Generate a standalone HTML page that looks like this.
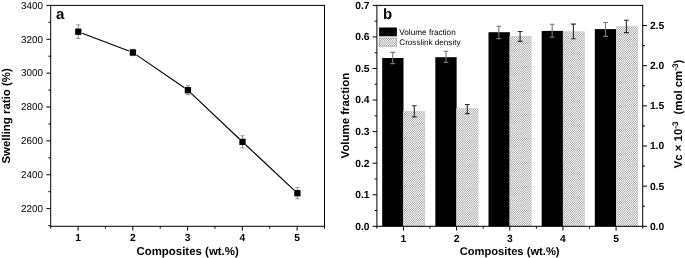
<!DOCTYPE html><html><head><meta charset="utf-8"><style>html,body{margin:0;padding:0;background:#fff}svg{display:block;will-change:transform;transform:translateZ(0)}text{font-family:"Liberation Sans",sans-serif;fill:#000;text-rendering:geometricPrecision}</style></head><body>
<svg width="685" height="258" viewBox="0 0 685 258">
<rect width="685" height="258" fill="#fff"/>
<rect x="50.7" y="5.4" width="273.8" height="220.9" fill="none" stroke="#000" stroke-width="1"/>
<line x1="48.400000000000006" y1="225.56" x2="50.7" y2="225.56" stroke="#000" stroke-width="1"/>
<line x1="46.400000000000006" y1="208.62" x2="50.7" y2="208.62" stroke="#000" stroke-width="1"/>
<text x="42.900000000000006" y="211.87" font-size="9.9" text-anchor="end">2200</text>
<line x1="48.400000000000006" y1="191.69" x2="50.7" y2="191.69" stroke="#000" stroke-width="1"/>
<line x1="46.400000000000006" y1="174.75" x2="50.7" y2="174.75" stroke="#000" stroke-width="1"/>
<text x="42.900000000000006" y="178.00" font-size="9.9" text-anchor="end">2400</text>
<line x1="48.400000000000006" y1="157.81" x2="50.7" y2="157.81" stroke="#000" stroke-width="1"/>
<line x1="46.400000000000006" y1="140.88" x2="50.7" y2="140.88" stroke="#000" stroke-width="1"/>
<text x="42.900000000000006" y="144.13" font-size="9.9" text-anchor="end">2600</text>
<line x1="48.400000000000006" y1="123.95" x2="50.7" y2="123.95" stroke="#000" stroke-width="1"/>
<line x1="46.400000000000006" y1="107.01" x2="50.7" y2="107.01" stroke="#000" stroke-width="1"/>
<text x="42.900000000000006" y="110.26" font-size="9.9" text-anchor="end">2800</text>
<line x1="48.400000000000006" y1="90.08" x2="50.7" y2="90.08" stroke="#000" stroke-width="1"/>
<line x1="46.400000000000006" y1="73.14" x2="50.7" y2="73.14" stroke="#000" stroke-width="1"/>
<text x="42.900000000000006" y="76.39" font-size="9.9" text-anchor="end">3000</text>
<line x1="48.400000000000006" y1="56.20" x2="50.7" y2="56.20" stroke="#000" stroke-width="1"/>
<line x1="46.400000000000006" y1="39.27" x2="50.7" y2="39.27" stroke="#000" stroke-width="1"/>
<text x="42.900000000000006" y="42.52" font-size="9.9" text-anchor="end">3200</text>
<line x1="48.400000000000006" y1="22.34" x2="50.7" y2="22.34" stroke="#000" stroke-width="1"/>
<line x1="46.400000000000006" y1="5.40" x2="50.7" y2="5.40" stroke="#000" stroke-width="1"/>
<text x="42.900000000000006" y="8.65" font-size="9.9" text-anchor="end">3400</text>
<line x1="50.70" y1="226.3" x2="50.70" y2="228.60000000000002" stroke="#000" stroke-width="1"/>
<line x1="78.08" y1="226.3" x2="78.08" y2="230.60000000000002" stroke="#000" stroke-width="1"/>
<text x="78.08" y="241.25" font-size="10.3" font-weight="bold" text-anchor="middle">1</text>
<line x1="105.46" y1="226.3" x2="105.46" y2="228.60000000000002" stroke="#000" stroke-width="1"/>
<line x1="132.84" y1="226.3" x2="132.84" y2="230.60000000000002" stroke="#000" stroke-width="1"/>
<text x="132.84" y="241.25" font-size="10.3" font-weight="bold" text-anchor="middle">2</text>
<line x1="160.22" y1="226.3" x2="160.22" y2="228.60000000000002" stroke="#000" stroke-width="1"/>
<line x1="187.60" y1="226.3" x2="187.60" y2="230.60000000000002" stroke="#000" stroke-width="1"/>
<text x="187.60" y="241.25" font-size="10.3" font-weight="bold" text-anchor="middle">3</text>
<line x1="214.98" y1="226.3" x2="214.98" y2="228.60000000000002" stroke="#000" stroke-width="1"/>
<line x1="242.36" y1="226.3" x2="242.36" y2="230.60000000000002" stroke="#000" stroke-width="1"/>
<text x="242.36" y="241.25" font-size="10.3" font-weight="bold" text-anchor="middle">4</text>
<line x1="269.74" y1="226.3" x2="269.74" y2="228.60000000000002" stroke="#000" stroke-width="1"/>
<line x1="297.12" y1="226.3" x2="297.12" y2="230.60000000000002" stroke="#000" stroke-width="1"/>
<text x="297.12" y="241.25" font-size="10.3" font-weight="bold" text-anchor="middle">5</text>
<line x1="324.50" y1="226.3" x2="324.50" y2="228.60000000000002" stroke="#000" stroke-width="1"/>
<text x="187.60" y="254.7" font-size="11.45" font-weight="bold" text-anchor="middle">Composites (wt.%)</text>
<text transform="translate(10.2,115.9) rotate(-90)" font-size="11.45" font-weight="bold" text-anchor="middle">Swelling ratio (%)</text>
<text x="56.0" y="18.9" font-size="15" font-weight="bold">a</text>
<path fill="none" stroke="#000" stroke-width="1.15" d="M82.22 33.20L128.98 51.00M136.36 54.87L184.44 87.83M190.95 93.09L239.45 139.01M245.57 144.77L294.33 190.33"/>
<path d="M78.3 24.9V38.5M76.2 24.9H80.39999999999999M76.2 38.5H80.39999999999999" stroke="#777" stroke-width="0.8" fill="none"/>
<rect x="75.14999999999999" y="28.55" width="6.3" height="6.3" fill="#000"/>
<path d="M132.9 49.3V55.7M130.8 49.3H135.0M130.8 55.7H135.0" stroke="#777" stroke-width="0.8" fill="none"/>
<rect x="129.75" y="49.35" width="6.3" height="6.3" fill="#000"/>
<path d="M187.9 85.7V94.7M185.8 85.7H190.0M185.8 94.7H190.0" stroke="#777" stroke-width="0.8" fill="none"/>
<rect x="184.75" y="87.05" width="6.3" height="6.3" fill="#000"/>
<path d="M242.5 135.8V148.0M240.4 135.8H244.6M240.4 148.0H244.6" stroke="#777" stroke-width="0.8" fill="none"/>
<rect x="239.35" y="138.75" width="6.3" height="6.3" fill="#000"/>
<path d="M297.4 187.6V198.79999999999998M295.29999999999995 187.6H299.5M295.29999999999995 198.79999999999998H299.5" stroke="#777" stroke-width="0.8" fill="none"/>
<rect x="294.25" y="190.04999999999998" width="6.3" height="6.3" fill="#000"/>
<defs><pattern id="h" width="41" height="12" patternUnits="userSpaceOnUse" shape-rendering="crispEdges"><rect width="41" height="12" fill="#fff"/><rect x="0" y="0" width="1" height="1" fill="#a4a4a4"/><rect x="2" y="0" width="1" height="1" fill="#a7a7a7"/><rect x="4" y="0" width="1" height="1" fill="#ababab"/><rect x="5" y="0" width="1" height="1" fill="#fbfbfb"/><rect x="6" y="0" width="1" height="1" fill="#b0b0b0"/><rect x="7" y="0" width="1" height="1" fill="#f6f6f6"/><rect x="8" y="0" width="1" height="1" fill="#b5b5b5"/><rect x="9" y="0" width="1" height="1" fill="#efefef"/><rect x="10" y="0" width="1" height="1" fill="#bcbcbc"/><rect x="11" y="0" width="1" height="1" fill="#e9e9e9"/><rect x="12" y="0" width="1" height="1" fill="#c3c3c3"/><rect x="13" y="0" width="1" height="1" fill="#e2e2e2"/><rect x="14" y="0" width="1" height="1" fill="#cacaca"/><rect x="15" y="0" width="1" height="1" fill="#dadada"/><rect x="16" y="0" width="1" height="1" fill="#d2d2d2"/><rect x="17" y="0" width="1" height="1" fill="#d2d2d2"/><rect x="18" y="0" width="1" height="1" fill="#d9d9d9"/><rect x="19" y="0" width="1" height="1" fill="#cbcbcb"/><rect x="20" y="0" width="1" height="1" fill="#e1e1e1"/><rect x="21" y="0" width="1" height="1" fill="#c3c3c3"/><rect x="22" y="0" width="1" height="1" fill="#e8e8e8"/><rect x="23" y="0" width="1" height="1" fill="#bcbcbc"/><rect x="24" y="0" width="1" height="1" fill="#efefef"/><rect x="25" y="0" width="1" height="1" fill="#b6b6b6"/><rect x="26" y="0" width="1" height="1" fill="#f5f5f5"/><rect x="27" y="0" width="1" height="1" fill="#b0b0b0"/><rect x="28" y="0" width="1" height="1" fill="#fafafa"/><rect x="29" y="0" width="1" height="1" fill="#ababab"/><rect x="31" y="0" width="1" height="1" fill="#a7a7a7"/><rect x="33" y="0" width="1" height="1" fill="#a4a4a4"/><rect x="35" y="0" width="1" height="1" fill="#a3a3a3"/><rect x="37" y="0" width="1" height="1" fill="#a2a2a2"/><rect x="39" y="0" width="1" height="1" fill="#a3a3a3"/><rect x="0" y="1" width="1" height="1" fill="#f6f6f6"/><rect x="1" y="1" width="1" height="1" fill="#b5b5b5"/><rect x="2" y="1" width="1" height="1" fill="#f0f0f0"/><rect x="3" y="1" width="1" height="1" fill="#bbbbbb"/><rect x="4" y="1" width="1" height="1" fill="#e9e9e9"/><rect x="5" y="1" width="1" height="1" fill="#c2c2c2"/><rect x="6" y="1" width="1" height="1" fill="#e2e2e2"/><rect x="7" y="1" width="1" height="1" fill="#cacaca"/><rect x="8" y="1" width="1" height="1" fill="#dbdbdb"/><rect x="9" y="1" width="1" height="1" fill="#d1d1d1"/><rect x="10" y="1" width="1" height="1" fill="#d3d3d3"/><rect x="11" y="1" width="1" height="1" fill="#d9d9d9"/><rect x="12" y="1" width="1" height="1" fill="#cbcbcb"/><rect x="13" y="1" width="1" height="1" fill="#e0e0e0"/><rect x="14" y="1" width="1" height="1" fill="#c4c4c4"/><rect x="15" y="1" width="1" height="1" fill="#e8e8e8"/><rect x="16" y="1" width="1" height="1" fill="#bdbdbd"/><rect x="17" y="1" width="1" height="1" fill="#eeeeee"/><rect x="18" y="1" width="1" height="1" fill="#b6b6b6"/><rect x="19" y="1" width="1" height="1" fill="#f5f5f5"/><rect x="20" y="1" width="1" height="1" fill="#b1b1b1"/><rect x="21" y="1" width="1" height="1" fill="#fafafa"/><rect x="22" y="1" width="1" height="1" fill="#acacac"/><rect x="24" y="1" width="1" height="1" fill="#a8a8a8"/><rect x="26" y="1" width="1" height="1" fill="#a5a5a5"/><rect x="28" y="1" width="1" height="1" fill="#a3a3a3"/><rect x="30" y="1" width="1" height="1" fill="#a2a2a2"/><rect x="32" y="1" width="1" height="1" fill="#a2a2a2"/><rect x="34" y="1" width="1" height="1" fill="#a4a4a4"/><rect x="36" y="1" width="1" height="1" fill="#a7a7a7"/><rect x="38" y="1" width="1" height="1" fill="#ababab"/><rect x="39" y="1" width="1" height="1" fill="#fbfbfb"/><rect x="40" y="1" width="1" height="1" fill="#afafaf"/><rect x="0" y="2" width="1" height="1" fill="#c9c9c9"/><rect x="1" y="2" width="1" height="1" fill="#dbdbdb"/><rect x="2" y="2" width="1" height="1" fill="#d0d0d0"/><rect x="3" y="2" width="1" height="1" fill="#d4d4d4"/><rect x="4" y="2" width="1" height="1" fill="#d8d8d8"/><rect x="5" y="2" width="1" height="1" fill="#cccccc"/><rect x="6" y="2" width="1" height="1" fill="#e0e0e0"/><rect x="7" y="2" width="1" height="1" fill="#c5c5c5"/><rect x="8" y="2" width="1" height="1" fill="#e7e7e7"/><rect x="9" y="2" width="1" height="1" fill="#bebebe"/><rect x="10" y="2" width="1" height="1" fill="#eeeeee"/><rect x="11" y="2" width="1" height="1" fill="#b7b7b7"/><rect x="12" y="2" width="1" height="1" fill="#f4f4f4"/><rect x="13" y="2" width="1" height="1" fill="#b1b1b1"/><rect x="14" y="2" width="1" height="1" fill="#fafafa"/><rect x="15" y="2" width="1" height="1" fill="#acacac"/><rect x="17" y="2" width="1" height="1" fill="#a8a8a8"/><rect x="19" y="2" width="1" height="1" fill="#a5a5a5"/><rect x="21" y="2" width="1" height="1" fill="#a3a3a3"/><rect x="23" y="2" width="1" height="1" fill="#a2a2a2"/><rect x="25" y="2" width="1" height="1" fill="#a2a2a2"/><rect x="27" y="2" width="1" height="1" fill="#a4a4a4"/><rect x="29" y="2" width="1" height="1" fill="#a7a7a7"/><rect x="31" y="2" width="1" height="1" fill="#aaaaaa"/><rect x="32" y="2" width="1" height="1" fill="#fcfcfc"/><rect x="33" y="2" width="1" height="1" fill="#afafaf"/><rect x="34" y="2" width="1" height="1" fill="#f6f6f6"/><rect x="35" y="2" width="1" height="1" fill="#b4b4b4"/><rect x="36" y="2" width="1" height="1" fill="#f1f1f1"/><rect x="37" y="2" width="1" height="1" fill="#bbbbbb"/><rect x="38" y="2" width="1" height="1" fill="#eaeaea"/><rect x="39" y="2" width="1" height="1" fill="#c2c2c2"/><rect x="40" y="2" width="1" height="1" fill="#e3e3e3"/><rect x="0" y="3" width="1" height="1" fill="#c5c5c5"/><rect x="1" y="3" width="1" height="1" fill="#e6e6e6"/><rect x="2" y="3" width="1" height="1" fill="#bebebe"/><rect x="3" y="3" width="1" height="1" fill="#ededed"/><rect x="4" y="3" width="1" height="1" fill="#b7b7b7"/><rect x="5" y="3" width="1" height="1" fill="#f4f4f4"/><rect x="6" y="3" width="1" height="1" fill="#b2b2b2"/><rect x="7" y="3" width="1" height="1" fill="#f9f9f9"/><rect x="8" y="3" width="1" height="1" fill="#acacac"/><rect x="10" y="3" width="1" height="1" fill="#a8a8a8"/><rect x="12" y="3" width="1" height="1" fill="#a5a5a5"/><rect x="14" y="3" width="1" height="1" fill="#a3a3a3"/><rect x="16" y="3" width="1" height="1" fill="#a2a2a2"/><rect x="18" y="3" width="1" height="1" fill="#a2a2a2"/><rect x="20" y="3" width="1" height="1" fill="#a4a4a4"/><rect x="22" y="3" width="1" height="1" fill="#a6a6a6"/><rect x="24" y="3" width="1" height="1" fill="#aaaaaa"/><rect x="25" y="3" width="1" height="1" fill="#fcfcfc"/><rect x="26" y="3" width="1" height="1" fill="#aeaeae"/><rect x="27" y="3" width="1" height="1" fill="#f7f7f7"/><rect x="28" y="3" width="1" height="1" fill="#b4b4b4"/><rect x="29" y="3" width="1" height="1" fill="#f1f1f1"/><rect x="30" y="3" width="1" height="1" fill="#bababa"/><rect x="31" y="3" width="1" height="1" fill="#eaeaea"/><rect x="32" y="3" width="1" height="1" fill="#c1c1c1"/><rect x="33" y="3" width="1" height="1" fill="#e3e3e3"/><rect x="34" y="3" width="1" height="1" fill="#c8c8c8"/><rect x="35" y="3" width="1" height="1" fill="#dcdcdc"/><rect x="36" y="3" width="1" height="1" fill="#d0d0d0"/><rect x="37" y="3" width="1" height="1" fill="#d4d4d4"/><rect x="38" y="3" width="1" height="1" fill="#d8d8d8"/><rect x="39" y="3" width="1" height="1" fill="#cdcdcd"/><rect x="40" y="3" width="1" height="1" fill="#dfdfdf"/><rect x="0" y="4" width="1" height="1" fill="#f9f9f9"/><rect x="1" y="4" width="1" height="1" fill="#adadad"/><rect x="2" y="4" width="1" height="1" fill="#fdfdfd"/><rect x="3" y="4" width="1" height="1" fill="#a9a9a9"/><rect x="5" y="4" width="1" height="1" fill="#a5a5a5"/><rect x="7" y="4" width="1" height="1" fill="#a3a3a3"/><rect x="9" y="4" width="1" height="1" fill="#a2a2a2"/><rect x="11" y="4" width="1" height="1" fill="#a2a2a2"/><rect x="13" y="4" width="1" height="1" fill="#a4a4a4"/><rect x="15" y="4" width="1" height="1" fill="#a6a6a6"/><rect x="17" y="4" width="1" height="1" fill="#aaaaaa"/><rect x="18" y="4" width="1" height="1" fill="#fcfcfc"/><rect x="19" y="4" width="1" height="1" fill="#aeaeae"/><rect x="20" y="4" width="1" height="1" fill="#f7f7f7"/><rect x="21" y="4" width="1" height="1" fill="#b3b3b3"/><rect x="22" y="4" width="1" height="1" fill="#f2f2f2"/><rect x="23" y="4" width="1" height="1" fill="#bababa"/><rect x="24" y="4" width="1" height="1" fill="#ebebeb"/><rect x="25" y="4" width="1" height="1" fill="#c0c0c0"/><rect x="26" y="4" width="1" height="1" fill="#e4e4e4"/><rect x="27" y="4" width="1" height="1" fill="#c8c8c8"/><rect x="28" y="4" width="1" height="1" fill="#dddddd"/><rect x="29" y="4" width="1" height="1" fill="#cfcfcf"/><rect x="30" y="4" width="1" height="1" fill="#d5d5d5"/><rect x="31" y="4" width="1" height="1" fill="#d7d7d7"/><rect x="32" y="4" width="1" height="1" fill="#cdcdcd"/><rect x="33" y="4" width="1" height="1" fill="#dedede"/><rect x="34" y="4" width="1" height="1" fill="#c6c6c6"/><rect x="35" y="4" width="1" height="1" fill="#e6e6e6"/><rect x="36" y="4" width="1" height="1" fill="#bfbfbf"/><rect x="37" y="4" width="1" height="1" fill="#ededed"/><rect x="38" y="4" width="1" height="1" fill="#b8b8b8"/><rect x="39" y="4" width="1" height="1" fill="#f3f3f3"/><rect x="40" y="4" width="1" height="1" fill="#b2b2b2"/><rect x="0" y="5" width="1" height="1" fill="#a3a3a3"/><rect x="2" y="5" width="1" height="1" fill="#a2a2a2"/><rect x="4" y="5" width="1" height="1" fill="#a2a2a2"/><rect x="6" y="5" width="1" height="1" fill="#a3a3a3"/><rect x="8" y="5" width="1" height="1" fill="#a6a6a6"/><rect x="10" y="5" width="1" height="1" fill="#a9a9a9"/><rect x="11" y="5" width="1" height="1" fill="#fdfdfd"/><rect x="12" y="5" width="1" height="1" fill="#aeaeae"/><rect x="13" y="5" width="1" height="1" fill="#f8f8f8"/><rect x="14" y="5" width="1" height="1" fill="#b3b3b3"/><rect x="15" y="5" width="1" height="1" fill="#f2f2f2"/><rect x="16" y="5" width="1" height="1" fill="#b9b9b9"/><rect x="17" y="5" width="1" height="1" fill="#ececec"/><rect x="18" y="5" width="1" height="1" fill="#c0c0c0"/><rect x="19" y="5" width="1" height="1" fill="#e5e5e5"/><rect x="20" y="5" width="1" height="1" fill="#c7c7c7"/><rect x="21" y="5" width="1" height="1" fill="#dddddd"/><rect x="22" y="5" width="1" height="1" fill="#cfcfcf"/><rect x="23" y="5" width="1" height="1" fill="#d6d6d6"/><rect x="24" y="5" width="1" height="1" fill="#d6d6d6"/><rect x="25" y="5" width="1" height="1" fill="#cecece"/><rect x="26" y="5" width="1" height="1" fill="#dedede"/><rect x="27" y="5" width="1" height="1" fill="#c6c6c6"/><rect x="28" y="5" width="1" height="1" fill="#e5e5e5"/><rect x="29" y="5" width="1" height="1" fill="#bfbfbf"/><rect x="30" y="5" width="1" height="1" fill="#ececec"/><rect x="31" y="5" width="1" height="1" fill="#b9b9b9"/><rect x="32" y="5" width="1" height="1" fill="#f3f3f3"/><rect x="33" y="5" width="1" height="1" fill="#b2b2b2"/><rect x="34" y="5" width="1" height="1" fill="#f8f8f8"/><rect x="35" y="5" width="1" height="1" fill="#adadad"/><rect x="36" y="5" width="1" height="1" fill="#fdfdfd"/><rect x="37" y="5" width="1" height="1" fill="#a9a9a9"/><rect x="39" y="5" width="1" height="1" fill="#a6a6a6"/><rect x="1" y="6" width="1" height="1" fill="#a6a6a6"/><rect x="3" y="6" width="1" height="1" fill="#a9a9a9"/><rect x="4" y="6" width="1" height="1" fill="#fdfdfd"/><rect x="5" y="6" width="1" height="1" fill="#adadad"/><rect x="6" y="6" width="1" height="1" fill="#f8f8f8"/><rect x="7" y="6" width="1" height="1" fill="#b2b2b2"/><rect x="8" y="6" width="1" height="1" fill="#f3f3f3"/><rect x="9" y="6" width="1" height="1" fill="#b9b9b9"/><rect x="10" y="6" width="1" height="1" fill="#ececec"/><rect x="11" y="6" width="1" height="1" fill="#bfbfbf"/><rect x="12" y="6" width="1" height="1" fill="#e5e5e5"/><rect x="13" y="6" width="1" height="1" fill="#c6c6c6"/><rect x="14" y="6" width="1" height="1" fill="#dedede"/><rect x="15" y="6" width="1" height="1" fill="#cecece"/><rect x="16" y="6" width="1" height="1" fill="#d6d6d6"/><rect x="17" y="6" width="1" height="1" fill="#d6d6d6"/><rect x="18" y="6" width="1" height="1" fill="#cfcfcf"/><rect x="19" y="6" width="1" height="1" fill="#dddddd"/><rect x="20" y="6" width="1" height="1" fill="#c7c7c7"/><rect x="21" y="6" width="1" height="1" fill="#e5e5e5"/><rect x="22" y="6" width="1" height="1" fill="#c0c0c0"/><rect x="23" y="6" width="1" height="1" fill="#ececec"/><rect x="24" y="6" width="1" height="1" fill="#b9b9b9"/><rect x="25" y="6" width="1" height="1" fill="#f2f2f2"/><rect x="26" y="6" width="1" height="1" fill="#b3b3b3"/><rect x="27" y="6" width="1" height="1" fill="#f8f8f8"/><rect x="28" y="6" width="1" height="1" fill="#aeaeae"/><rect x="29" y="6" width="1" height="1" fill="#fdfdfd"/><rect x="30" y="6" width="1" height="1" fill="#a9a9a9"/><rect x="32" y="6" width="1" height="1" fill="#a6a6a6"/><rect x="34" y="6" width="1" height="1" fill="#a3a3a3"/><rect x="36" y="6" width="1" height="1" fill="#a2a2a2"/><rect x="38" y="6" width="1" height="1" fill="#a2a2a2"/><rect x="40" y="6" width="1" height="1" fill="#a3a3a3"/><rect x="0" y="7" width="1" height="1" fill="#b2b2b2"/><rect x="1" y="7" width="1" height="1" fill="#f3f3f3"/><rect x="2" y="7" width="1" height="1" fill="#b8b8b8"/><rect x="3" y="7" width="1" height="1" fill="#ededed"/><rect x="4" y="7" width="1" height="1" fill="#bfbfbf"/><rect x="5" y="7" width="1" height="1" fill="#e6e6e6"/><rect x="6" y="7" width="1" height="1" fill="#c6c6c6"/><rect x="7" y="7" width="1" height="1" fill="#dedede"/><rect x="8" y="7" width="1" height="1" fill="#cdcdcd"/><rect x="9" y="7" width="1" height="1" fill="#d7d7d7"/><rect x="10" y="7" width="1" height="1" fill="#d5d5d5"/><rect x="11" y="7" width="1" height="1" fill="#cfcfcf"/><rect x="12" y="7" width="1" height="1" fill="#dddddd"/><rect x="13" y="7" width="1" height="1" fill="#c8c8c8"/><rect x="14" y="7" width="1" height="1" fill="#e4e4e4"/><rect x="15" y="7" width="1" height="1" fill="#c0c0c0"/><rect x="16" y="7" width="1" height="1" fill="#ebebeb"/><rect x="17" y="7" width="1" height="1" fill="#bababa"/><rect x="18" y="7" width="1" height="1" fill="#f2f2f2"/><rect x="19" y="7" width="1" height="1" fill="#b3b3b3"/><rect x="20" y="7" width="1" height="1" fill="#f7f7f7"/><rect x="21" y="7" width="1" height="1" fill="#aeaeae"/><rect x="22" y="7" width="1" height="1" fill="#fcfcfc"/><rect x="23" y="7" width="1" height="1" fill="#aaaaaa"/><rect x="25" y="7" width="1" height="1" fill="#a6a6a6"/><rect x="27" y="7" width="1" height="1" fill="#a4a4a4"/><rect x="29" y="7" width="1" height="1" fill="#a2a2a2"/><rect x="31" y="7" width="1" height="1" fill="#a2a2a2"/><rect x="33" y="7" width="1" height="1" fill="#a3a3a3"/><rect x="35" y="7" width="1" height="1" fill="#a5a5a5"/><rect x="37" y="7" width="1" height="1" fill="#a9a9a9"/><rect x="38" y="7" width="1" height="1" fill="#fdfdfd"/><rect x="39" y="7" width="1" height="1" fill="#adadad"/><rect x="40" y="7" width="1" height="1" fill="#f9f9f9"/><rect x="0" y="8" width="1" height="1" fill="#dfdfdf"/><rect x="1" y="8" width="1" height="1" fill="#cdcdcd"/><rect x="2" y="8" width="1" height="1" fill="#d8d8d8"/><rect x="3" y="8" width="1" height="1" fill="#d4d4d4"/><rect x="4" y="8" width="1" height="1" fill="#d0d0d0"/><rect x="5" y="8" width="1" height="1" fill="#dcdcdc"/><rect x="6" y="8" width="1" height="1" fill="#c8c8c8"/><rect x="7" y="8" width="1" height="1" fill="#e3e3e3"/><rect x="8" y="8" width="1" height="1" fill="#c1c1c1"/><rect x="9" y="8" width="1" height="1" fill="#eaeaea"/><rect x="10" y="8" width="1" height="1" fill="#bababa"/><rect x="11" y="8" width="1" height="1" fill="#f1f1f1"/><rect x="12" y="8" width="1" height="1" fill="#b4b4b4"/><rect x="13" y="8" width="1" height="1" fill="#f7f7f7"/><rect x="14" y="8" width="1" height="1" fill="#aeaeae"/><rect x="15" y="8" width="1" height="1" fill="#fcfcfc"/><rect x="16" y="8" width="1" height="1" fill="#aaaaaa"/><rect x="18" y="8" width="1" height="1" fill="#a6a6a6"/><rect x="20" y="8" width="1" height="1" fill="#a4a4a4"/><rect x="22" y="8" width="1" height="1" fill="#a2a2a2"/><rect x="24" y="8" width="1" height="1" fill="#a2a2a2"/><rect x="26" y="8" width="1" height="1" fill="#a3a3a3"/><rect x="28" y="8" width="1" height="1" fill="#a5a5a5"/><rect x="30" y="8" width="1" height="1" fill="#a8a8a8"/><rect x="32" y="8" width="1" height="1" fill="#acacac"/><rect x="33" y="8" width="1" height="1" fill="#f9f9f9"/><rect x="34" y="8" width="1" height="1" fill="#b2b2b2"/><rect x="35" y="8" width="1" height="1" fill="#f4f4f4"/><rect x="36" y="8" width="1" height="1" fill="#b7b7b7"/><rect x="37" y="8" width="1" height="1" fill="#ededed"/><rect x="38" y="8" width="1" height="1" fill="#bebebe"/><rect x="39" y="8" width="1" height="1" fill="#e6e6e6"/><rect x="40" y="8" width="1" height="1" fill="#c5c5c5"/><rect x="0" y="9" width="1" height="1" fill="#e3e3e3"/><rect x="1" y="9" width="1" height="1" fill="#c2c2c2"/><rect x="2" y="9" width="1" height="1" fill="#eaeaea"/><rect x="3" y="9" width="1" height="1" fill="#bbbbbb"/><rect x="4" y="9" width="1" height="1" fill="#f1f1f1"/><rect x="5" y="9" width="1" height="1" fill="#b4b4b4"/><rect x="6" y="9" width="1" height="1" fill="#f6f6f6"/><rect x="7" y="9" width="1" height="1" fill="#afafaf"/><rect x="8" y="9" width="1" height="1" fill="#fcfcfc"/><rect x="9" y="9" width="1" height="1" fill="#aaaaaa"/><rect x="11" y="9" width="1" height="1" fill="#a7a7a7"/><rect x="13" y="9" width="1" height="1" fill="#a4a4a4"/><rect x="15" y="9" width="1" height="1" fill="#a2a2a2"/><rect x="17" y="9" width="1" height="1" fill="#a2a2a2"/><rect x="19" y="9" width="1" height="1" fill="#a3a3a3"/><rect x="21" y="9" width="1" height="1" fill="#a5a5a5"/><rect x="23" y="9" width="1" height="1" fill="#a8a8a8"/><rect x="25" y="9" width="1" height="1" fill="#acacac"/><rect x="26" y="9" width="1" height="1" fill="#fafafa"/><rect x="27" y="9" width="1" height="1" fill="#b1b1b1"/><rect x="28" y="9" width="1" height="1" fill="#f4f4f4"/><rect x="29" y="9" width="1" height="1" fill="#b7b7b7"/><rect x="30" y="9" width="1" height="1" fill="#eeeeee"/><rect x="31" y="9" width="1" height="1" fill="#bebebe"/><rect x="32" y="9" width="1" height="1" fill="#e7e7e7"/><rect x="33" y="9" width="1" height="1" fill="#c5c5c5"/><rect x="34" y="9" width="1" height="1" fill="#e0e0e0"/><rect x="35" y="9" width="1" height="1" fill="#cccccc"/><rect x="36" y="9" width="1" height="1" fill="#d8d8d8"/><rect x="37" y="9" width="1" height="1" fill="#d4d4d4"/><rect x="38" y="9" width="1" height="1" fill="#d0d0d0"/><rect x="39" y="9" width="1" height="1" fill="#dbdbdb"/><rect x="40" y="9" width="1" height="1" fill="#c9c9c9"/><rect x="0" y="10" width="1" height="1" fill="#afafaf"/><rect x="1" y="10" width="1" height="1" fill="#fbfbfb"/><rect x="2" y="10" width="1" height="1" fill="#ababab"/><rect x="4" y="10" width="1" height="1" fill="#a7a7a7"/><rect x="6" y="10" width="1" height="1" fill="#a4a4a4"/><rect x="8" y="10" width="1" height="1" fill="#a2a2a2"/><rect x="10" y="10" width="1" height="1" fill="#a2a2a2"/><rect x="12" y="10" width="1" height="1" fill="#a3a3a3"/><rect x="14" y="10" width="1" height="1" fill="#a5a5a5"/><rect x="16" y="10" width="1" height="1" fill="#a8a8a8"/><rect x="18" y="10" width="1" height="1" fill="#acacac"/><rect x="19" y="10" width="1" height="1" fill="#fafafa"/><rect x="20" y="10" width="1" height="1" fill="#b1b1b1"/><rect x="21" y="10" width="1" height="1" fill="#f5f5f5"/><rect x="22" y="10" width="1" height="1" fill="#b6b6b6"/><rect x="23" y="10" width="1" height="1" fill="#eeeeee"/><rect x="24" y="10" width="1" height="1" fill="#bdbdbd"/><rect x="25" y="10" width="1" height="1" fill="#e8e8e8"/><rect x="26" y="10" width="1" height="1" fill="#c4c4c4"/><rect x="27" y="10" width="1" height="1" fill="#e0e0e0"/><rect x="28" y="10" width="1" height="1" fill="#cbcbcb"/><rect x="29" y="10" width="1" height="1" fill="#d9d9d9"/><rect x="30" y="10" width="1" height="1" fill="#d3d3d3"/><rect x="31" y="10" width="1" height="1" fill="#d1d1d1"/><rect x="32" y="10" width="1" height="1" fill="#dbdbdb"/><rect x="33" y="10" width="1" height="1" fill="#cacaca"/><rect x="34" y="10" width="1" height="1" fill="#e2e2e2"/><rect x="35" y="10" width="1" height="1" fill="#c2c2c2"/><rect x="36" y="10" width="1" height="1" fill="#e9e9e9"/><rect x="37" y="10" width="1" height="1" fill="#bbbbbb"/><rect x="38" y="10" width="1" height="1" fill="#f0f0f0"/><rect x="39" y="10" width="1" height="1" fill="#b5b5b5"/><rect x="40" y="10" width="1" height="1" fill="#f6f6f6"/><rect x="1" y="11" width="1" height="1" fill="#a3a3a3"/><rect x="3" y="11" width="1" height="1" fill="#a2a2a2"/><rect x="5" y="11" width="1" height="1" fill="#a3a3a3"/><rect x="7" y="11" width="1" height="1" fill="#a4a4a4"/><rect x="9" y="11" width="1" height="1" fill="#a7a7a7"/><rect x="11" y="11" width="1" height="1" fill="#ababab"/><rect x="12" y="11" width="1" height="1" fill="#fafafa"/><rect x="13" y="11" width="1" height="1" fill="#b0b0b0"/><rect x="14" y="11" width="1" height="1" fill="#f5f5f5"/><rect x="15" y="11" width="1" height="1" fill="#b6b6b6"/><rect x="16" y="11" width="1" height="1" fill="#efefef"/><rect x="17" y="11" width="1" height="1" fill="#bcbcbc"/><rect x="18" y="11" width="1" height="1" fill="#e8e8e8"/><rect x="19" y="11" width="1" height="1" fill="#c3c3c3"/><rect x="20" y="11" width="1" height="1" fill="#e1e1e1"/><rect x="21" y="11" width="1" height="1" fill="#cbcbcb"/><rect x="22" y="11" width="1" height="1" fill="#d9d9d9"/><rect x="23" y="11" width="1" height="1" fill="#d2d2d2"/><rect x="24" y="11" width="1" height="1" fill="#d2d2d2"/><rect x="25" y="11" width="1" height="1" fill="#dadada"/><rect x="26" y="11" width="1" height="1" fill="#cacaca"/><rect x="27" y="11" width="1" height="1" fill="#e2e2e2"/><rect x="28" y="11" width="1" height="1" fill="#c3c3c3"/><rect x="29" y="11" width="1" height="1" fill="#e9e9e9"/><rect x="30" y="11" width="1" height="1" fill="#bcbcbc"/><rect x="31" y="11" width="1" height="1" fill="#efefef"/><rect x="32" y="11" width="1" height="1" fill="#b5b5b5"/><rect x="33" y="11" width="1" height="1" fill="#f6f6f6"/><rect x="34" y="11" width="1" height="1" fill="#b0b0b0"/><rect x="35" y="11" width="1" height="1" fill="#fbfbfb"/><rect x="36" y="11" width="1" height="1" fill="#ababab"/><rect x="38" y="11" width="1" height="1" fill="#a7a7a7"/><rect x="40" y="11" width="1" height="1" fill="#a4a4a4"/></pattern></defs>
<rect x="382.18" y="58.00" width="21.30" height="168.30" fill="#000"/>
<rect x="403.48" y="111.30" width="21.60" height="115.00" fill="#fff"/>
<rect x="403.48" y="111.30" width="21.60" height="115.00" fill="url(#h)"/>
<rect x="403.78" y="111.60" width="21.00" height="114.70" fill="none" stroke="#ccc" stroke-width="0.6"/>
<path d="M392.70 52.40V63.60M390.30 52.40H395.10M390.30 63.60H395.10" stroke="#777" stroke-width="1.1" fill="none"/>
<path d="M414.30 105.70V116.90M411.90 105.70H416.70M411.90 116.90H416.70" stroke="#2a2a2a" stroke-width="1.1" fill="none"/>
<rect x="435.34" y="57.20" width="21.30" height="169.10" fill="#000"/>
<rect x="456.64" y="108.40" width="21.60" height="117.90" fill="#fff"/>
<rect x="456.64" y="108.40" width="21.60" height="117.90" fill="url(#h)"/>
<rect x="456.94" y="108.70" width="21.00" height="117.60" fill="none" stroke="#ccc" stroke-width="0.6"/>
<path d="M446.00 51.30V62.40M443.60 51.30H448.40M443.60 62.40H448.40" stroke="#777" stroke-width="1.1" fill="none"/>
<path d="M467.30 104.50V113.60M464.90 104.50H469.70M464.90 113.60H469.70" stroke="#2a2a2a" stroke-width="1.1" fill="none"/>
<rect x="488.50" y="32.20" width="21.30" height="194.10" fill="#000"/>
<rect x="509.80" y="36.20" width="21.60" height="190.10" fill="#fff"/>
<rect x="509.80" y="36.20" width="21.60" height="190.10" fill="url(#h)"/>
<rect x="510.10" y="36.50" width="21.00" height="189.80" fill="none" stroke="#ccc" stroke-width="0.6"/>
<path d="M498.80 26.30V38.60M496.40 26.30H501.20M496.40 38.60H501.20" stroke="#777" stroke-width="1.1" fill="none"/>
<path d="M520.10 31.50V41.40M517.70 31.50H522.50M517.70 41.40H522.50" stroke="#2a2a2a" stroke-width="1.1" fill="none"/>
<rect x="541.66" y="30.90" width="21.30" height="195.40" fill="#000"/>
<rect x="562.96" y="31.60" width="21.60" height="194.70" fill="#fff"/>
<rect x="562.96" y="31.60" width="21.60" height="194.70" fill="url(#h)"/>
<rect x="563.26" y="31.90" width="21.00" height="194.40" fill="none" stroke="#ccc" stroke-width="0.6"/>
<path d="M552.20 24.30V37.30M549.80 24.30H554.60M549.80 37.30H554.60" stroke="#777" stroke-width="1.1" fill="none"/>
<path d="M573.40 24.10V38.80M571.00 24.10H575.80M571.00 38.80H575.80" stroke="#2a2a2a" stroke-width="1.1" fill="none"/>
<rect x="594.82" y="29.10" width="21.30" height="197.20" fill="#000"/>
<rect x="616.12" y="26.40" width="21.60" height="199.90" fill="#fff"/>
<rect x="616.12" y="26.40" width="21.60" height="199.90" fill="url(#h)"/>
<rect x="616.42" y="26.70" width="21.00" height="199.60" fill="none" stroke="#ccc" stroke-width="0.6"/>
<path d="M605.50 22.50V36.40M603.10 22.50H607.90M603.10 36.40H607.90" stroke="#777" stroke-width="1.1" fill="none"/>
<path d="M626.40 20.20V32.60M624.00 20.20H628.80M624.00 32.60H628.80" stroke="#2a2a2a" stroke-width="1.1" fill="none"/>
<rect x="376.9" y="5.4" width="265.80000000000007" height="220.9" fill="none" stroke="#000" stroke-width="1"/>
<line x1="372.59999999999997" y1="226.30" x2="376.9" y2="226.30" stroke="#000" stroke-width="1"/>
<text x="369.5" y="229.70" font-size="10.3" font-weight="bold" text-anchor="end">0.0</text>
<line x1="374.59999999999997" y1="210.52" x2="376.9" y2="210.52" stroke="#000" stroke-width="1"/>
<line x1="372.59999999999997" y1="194.74" x2="376.9" y2="194.74" stroke="#000" stroke-width="1"/>
<text x="369.5" y="198.14" font-size="10.3" font-weight="bold" text-anchor="end">0.1</text>
<line x1="374.59999999999997" y1="178.96" x2="376.9" y2="178.96" stroke="#000" stroke-width="1"/>
<line x1="372.59999999999997" y1="163.19" x2="376.9" y2="163.19" stroke="#000" stroke-width="1"/>
<text x="369.5" y="166.59" font-size="10.3" font-weight="bold" text-anchor="end">0.2</text>
<line x1="374.59999999999997" y1="147.41" x2="376.9" y2="147.41" stroke="#000" stroke-width="1"/>
<line x1="372.59999999999997" y1="131.63" x2="376.9" y2="131.63" stroke="#000" stroke-width="1"/>
<text x="369.5" y="135.03" font-size="10.3" font-weight="bold" text-anchor="end">0.3</text>
<line x1="374.59999999999997" y1="115.85" x2="376.9" y2="115.85" stroke="#000" stroke-width="1"/>
<line x1="372.59999999999997" y1="100.07" x2="376.9" y2="100.07" stroke="#000" stroke-width="1"/>
<text x="369.5" y="103.47" font-size="10.3" font-weight="bold" text-anchor="end">0.4</text>
<line x1="374.59999999999997" y1="84.29" x2="376.9" y2="84.29" stroke="#000" stroke-width="1"/>
<line x1="372.59999999999997" y1="68.51" x2="376.9" y2="68.51" stroke="#000" stroke-width="1"/>
<text x="369.5" y="71.91" font-size="10.3" font-weight="bold" text-anchor="end">0.5</text>
<line x1="374.59999999999997" y1="52.74" x2="376.9" y2="52.74" stroke="#000" stroke-width="1"/>
<line x1="372.59999999999997" y1="36.96" x2="376.9" y2="36.96" stroke="#000" stroke-width="1"/>
<text x="369.5" y="40.36" font-size="10.3" font-weight="bold" text-anchor="end">0.6</text>
<line x1="374.59999999999997" y1="21.18" x2="376.9" y2="21.18" stroke="#000" stroke-width="1"/>
<line x1="372.59999999999997" y1="5.40" x2="376.9" y2="5.40" stroke="#000" stroke-width="1"/>
<text x="369.5" y="8.80" font-size="10.3" font-weight="bold" text-anchor="end">0.7</text>
<line x1="642.7" y1="226.30" x2="647.0" y2="226.30" stroke="#000" stroke-width="1"/>
<text x="649.9000000000001" y="229.70" font-size="10.3" font-weight="bold">0.0</text>
<line x1="642.7" y1="206.23" x2="645.0" y2="206.23" stroke="#000" stroke-width="1"/>
<line x1="642.7" y1="186.15" x2="647.0" y2="186.15" stroke="#000" stroke-width="1"/>
<text x="649.9000000000001" y="189.55" font-size="10.3" font-weight="bold">0.5</text>
<line x1="642.7" y1="166.08" x2="645.0" y2="166.08" stroke="#000" stroke-width="1"/>
<line x1="642.7" y1="146.00" x2="647.0" y2="146.00" stroke="#000" stroke-width="1"/>
<text x="649.9000000000001" y="149.40" font-size="10.3" font-weight="bold">1.0</text>
<line x1="642.7" y1="125.93" x2="645.0" y2="125.93" stroke="#000" stroke-width="1"/>
<line x1="642.7" y1="105.85" x2="647.0" y2="105.85" stroke="#000" stroke-width="1"/>
<text x="649.9000000000001" y="109.25" font-size="10.3" font-weight="bold">1.5</text>
<line x1="642.7" y1="85.78" x2="645.0" y2="85.78" stroke="#000" stroke-width="1"/>
<line x1="642.7" y1="65.70" x2="647.0" y2="65.70" stroke="#000" stroke-width="1"/>
<text x="649.9000000000001" y="69.10" font-size="10.3" font-weight="bold">2.0</text>
<line x1="642.7" y1="45.63" x2="645.0" y2="45.63" stroke="#000" stroke-width="1"/>
<line x1="642.7" y1="25.55" x2="647.0" y2="25.55" stroke="#000" stroke-width="1"/>
<text x="649.9000000000001" y="28.95" font-size="10.3" font-weight="bold">2.5</text>
<line x1="376.90" y1="226.3" x2="376.90" y2="228.60000000000002" stroke="#000" stroke-width="1"/>
<line x1="403.48" y1="226.3" x2="403.48" y2="230.60000000000002" stroke="#000" stroke-width="1"/>
<text x="403.48" y="241.75" font-size="10.3" font-weight="bold" text-anchor="middle">1</text>
<line x1="430.06" y1="226.3" x2="430.06" y2="228.60000000000002" stroke="#000" stroke-width="1"/>
<line x1="456.64" y1="226.3" x2="456.64" y2="230.60000000000002" stroke="#000" stroke-width="1"/>
<text x="456.64" y="241.75" font-size="10.3" font-weight="bold" text-anchor="middle">2</text>
<line x1="483.22" y1="226.3" x2="483.22" y2="228.60000000000002" stroke="#000" stroke-width="1"/>
<line x1="509.80" y1="226.3" x2="509.80" y2="230.60000000000002" stroke="#000" stroke-width="1"/>
<text x="509.80" y="241.75" font-size="10.3" font-weight="bold" text-anchor="middle">3</text>
<line x1="536.38" y1="226.3" x2="536.38" y2="228.60000000000002" stroke="#000" stroke-width="1"/>
<line x1="562.96" y1="226.3" x2="562.96" y2="230.60000000000002" stroke="#000" stroke-width="1"/>
<text x="562.96" y="241.75" font-size="10.3" font-weight="bold" text-anchor="middle">4</text>
<line x1="589.54" y1="226.3" x2="589.54" y2="228.60000000000002" stroke="#000" stroke-width="1"/>
<line x1="616.12" y1="226.3" x2="616.12" y2="230.60000000000002" stroke="#000" stroke-width="1"/>
<text x="616.12" y="241.75" font-size="10.3" font-weight="bold" text-anchor="middle">5</text>
<line x1="642.70" y1="226.3" x2="642.70" y2="228.60000000000002" stroke="#000" stroke-width="1"/>
<text x="509.60" y="254.8" font-size="11.18" font-weight="bold" text-anchor="middle">Composites (wt.%)</text>
<text transform="translate(348.7,115.6) rotate(-90)" font-size="11.45" font-weight="bold" text-anchor="middle">Volume fraction</text>
<text transform="translate(682.1,114.0) rotate(-90)" font-size="11.38" font-weight="bold" text-anchor="middle">Vc × 10<tspan dy="-4" font-size="8.2">-3</tspan><tspan dy="4" dx="3.9" font-size="11.38"> (mol cm</tspan><tspan dy="-4" font-size="8.2">-3</tspan><tspan dy="4" font-size="11.45">)</tspan></text>
<text x="382.9" y="18.7" font-size="15" font-weight="bold">b</text>
<rect x="379.1" y="27.5" width="17.8" height="8.8" fill="#000"/>
<rect x="379.10" y="37.80" width="17.80" height="8.70" fill="url(#h)"/><rect x="379.4" y="38.1" width="17.2" height="8.1" fill="none" stroke="#999" stroke-width="0.6"/>
<text x="399.3" y="34.8" font-size="8.2">Volume fraction</text>
<text x="399.3" y="45.2" font-size="8.1">Crosslink density</text>
</svg></body></html>
